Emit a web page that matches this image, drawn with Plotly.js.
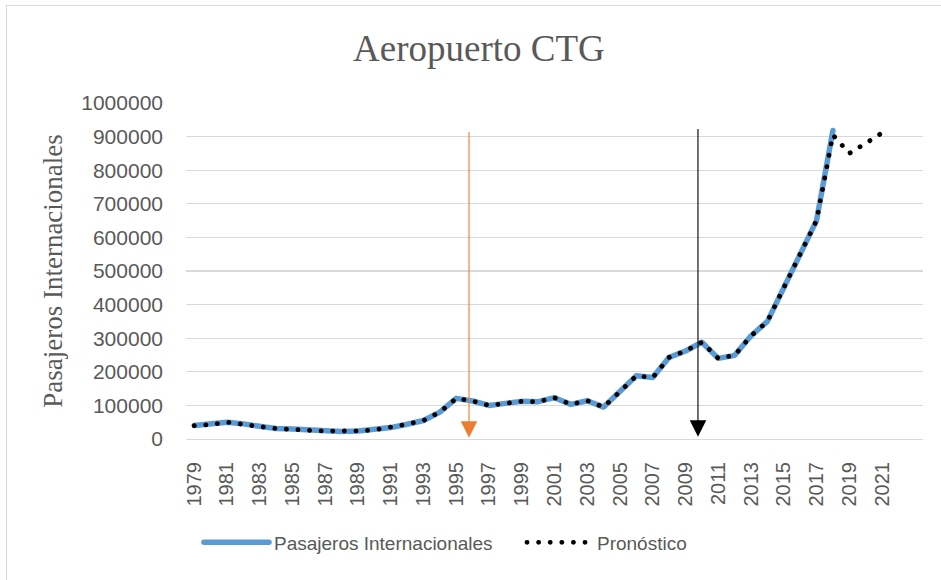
<!DOCTYPE html>
<html>
<head>
<meta charset="utf-8">
<script src="https://cdn.plot.ly/plotly-3.0.1.min.js"></script>
<style>
  html, body { margin: 0; padding: 0; background: #ffffff; overflow: hidden; }
  #wrap { position: relative; width: 941px; height: 580px; }
  #chart { width: 941px; height: 580px; }
  #frame { position: absolute; left: 6px; top: 5px; width: 950px; height: 590px;
           border: 1px solid #d9d9d9; pointer-events: none; box-sizing: border-box; }
  #chart path.js-line { stroke-linecap: round; stroke-linejoin: round; }
</style>
</head>
<body>
<div id="wrap">
  <div id="chart"></div>
  <div id="frame"></div>
</div>
<script>
// ---- data ----
var yearsActual = [1979,1980,1981,1982,1983,1984,1985,1986,1987,1988,
                   1989,1990,1991,1992,1993,1994,1995,1996,1997,1998,
                   1999,2000,2001,2002,2003,2004,2005,2006,2007,2008,
                   2009,2010,2011,2012,2013,2014,2015,2016,2017,2018];
var pasajeros = [40000,43000,50000,45000,37000,31000,30000,26000,23500,22000,
                 24000,27000,34000,44000,55000,80000,121000,113000,100000,106000,
                 112000,111000,123000,103000,114000,95000,143000,188000,183000,243000,
                 262000,288000,240000,249000,307000,350000,450000,550000,650000,918000];

var yearsForecast = [1979,1980,1981,1982,1983,1984,1985,1986,1987,1988,
                     1989,1990,1991,1992,1993,1994,1995,1996,1997,1998,
                     1999,2000,2001,2002,2003,2004,2005,2006,2007,2008,
                     2009,2010,2011,2012,2013,2014,2015,2016,2017,2018,
                     2019,2020,2021];
var pronostico = [40000,43000,50000,45000,37000,31000,30000,26000,23500,22000,
                  24000,27000,34000,44000,55000,80000,121000,113000,100000,106000,
                  112000,111000,123000,103000,114000,95000,143000,188000,183000,243000,
                  262000,288000,240000,249000,307000,350000,450000,550000,650000,905000,
                  850000,880000,911000];

var tickYears = [1979,1981,1983,1985,1987,1989,1991,1993,1995,1997,1999,
                 2001,2003,2005,2007,2009,2011,2013,2015,2017,2019,2021];
var tickLabels = tickYears.map(String);

// arrows marking two years: [year, top value, tip value]
var arrowOrange = [1995.78, 918000, 4000];
var arrowBlack  = [2009.76, 927000, 7000];

var sansFont = '"Liberation Sans", Arial, sans-serif';
var serifFont = '"Liberation Serif", "Times New Roman", serif';
var grey = '#595959';

var traces = [
  {
    type: 'scatter', mode: 'lines', name: 'Pasajeros Internacionales',
    x: yearsActual, y: pasajeros,
    line: { color: '#5B9BD5', width: 5.5 },
    hoverinfo: 'x+y'
  },
  {
    type: 'scatter', mode: 'lines', name: 'Pronóstico',
    x: yearsForecast, y: pronostico,
    line: { color: '#000000', width: 4.8, dash: '0.1px,11.5px' },
    hoverinfo: 'x+y'
  }
];

function arrow(a, color) {
  return {
    x: a[0], y: a[2], xref: 'x', yref: 'y',
    ax: a[0], ay: a[1], axref: 'x', ayref: 'y',
    text: '', showarrow: true,
    arrowhead: 2, arrowsize: 3, arrowwidth: 1.1, arrowcolor: color
  };
}

var layout = {
  width: 941, height: 580,
  margin: { l: 186, r: 18, t: 103, b: 141, pad: 0 },
  paper_bgcolor: '#ffffff', plot_bgcolor: '#ffffff',
  title: {
    text: 'Aeropuerto CTG',
    font: { family: serifFont, size: 37, color: grey },
    x: 0.509, xanchor: 'center', xref: 'container',
    y: 0.917, yanchor: 'middle', yref: 'container'
  },
  xaxis: {
    range: [1978.5, 2023.5],
    tickmode: 'array', tickvals: tickYears, ticktext: tickLabels,
    tickangle: -90, ticks: '', ticklabelstandoff: 14,
    tickfont: { family: sansFont, size: 20, color: grey },
    showgrid: false, zeroline: false,
    showline: true, linecolor: '#d9d9d9', linewidth: 1
  },
  yaxis: {
    range: [0, 1000000], dtick: 100000, tick0: 0, tickformat: 'd',
    ticks: '', ticklabelstandoff: 22,
    tickfont: { family: sansFont, size: 21, color: grey },
    showgrid: true, gridcolor: '#d9d9d9', gridwidth: 1.2,
    zeroline: true, zerolinecolor: '#d9d9d9', zerolinewidth: 1.2,
    showline: false,
    title: {
      text: 'Pasajeros Internacionales',
      font: { family: serifFont, size: 27, color: grey },
      standoff: 10
    }
  },
  showlegend: true,
  legend: {
    orientation: 'h', x: 0.0176, xanchor: 'left', xref: 'paper',
    y: -0.308, yanchor: 'middle', yref: 'paper',
    font: { family: sansFont, size: 19, color: grey },
    itemwidth: 65, entrywidth: 243, entrywidthmode: 'pixels',
    bgcolor: 'rgba(0,0,0,0)', traceorder: 'normal'
  },
  annotations: [arrow(arrowOrange, '#ED7D31'), arrow(arrowBlack, '#000000')]
};

Plotly.newPlot('chart', traces, layout, { displayModeBar: false, staticPlot: true });
</script>
</body>
</html>
